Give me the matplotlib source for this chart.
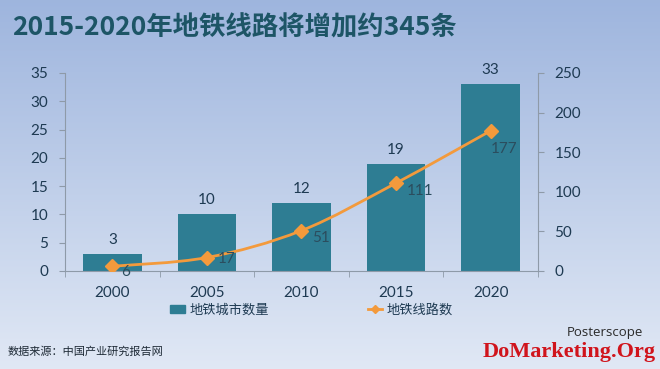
import numpy as np
import matplotlib
matplotlib.use('Agg')
import matplotlib.pyplot as plt
from matplotlib.path import Path
from matplotlib.patches import PathPatch, Patch
from matplotlib.lines import Line2D

# data
years = ['2000', '2005', '2010', '2015', '2020']
cities = [3, 10, 12, 19, 33]      # 地铁城市数量
lines = [6, 17, 51, 111, 177]     # 地铁线路数

title = '2015-2020年地铁线路将增加约345条'
legend_labels = ['地铁城市数量', '地铁线路数']
source = '数据来源：中国产业研究报告网'

CJK = ['Noto Sans CJK SC', 'DejaVu Sans']
NUM = ['Lato', 'DejaVu Sans']
bar_color = '#2e7d93'
line_color = '#f39a3c'
text_color = '#1e3a52'
axis_color = '#8e9aa8'

fig = plt.figure(figsize=(6.6, 3.69), dpi=100)

# background gradient
bg = fig.add_axes([0, 0, 1, 1], zorder=-10)
grad = np.linspace(0, 1, 256).reshape(-1, 1)
top = np.array([0.62, 0.71, 0.87])
bottom = np.array([0.88, 0.91, 0.96])
img = top[None, None, :] * (1 - grad[:, :, None]) + bottom[None, None, :] * grad[:, :, None]
bg.imshow(img, aspect='auto', extent=[0, 1, 0, 1])
bg.axis('off')

ax = fig.add_axes([0.0985, 0.2656, 0.7165, 0.5366])
ax.patch.set_alpha(0)
x = np.arange(len(years))
ax.bar(x, cities, width=0.62, color=bar_color, zorder=2)
ax.set_xlim(-0.5, len(years) - 0.5)
ax.set_ylim(0, 35)
ax.set_yticks(range(0, 36, 5))
ax.set_xticks(x)
ax.set_xticklabels(years)
ax.set_xticks(np.arange(-0.5, len(years)), minor=True)
ax.tick_params(axis='x', which='major', length=0, pad=11)
ax.tick_params(axis='x', which='minor', length=4, color=axis_color)
ax.tick_params(axis='y', length=4, color=axis_color, pad=8)
for lab in ax.get_xticklabels() + ax.get_yticklabels():
    lab.set_family(NUM)
    lab.set_fontsize(11)
    lab.set_color(text_color)
for s in ['top', 'right']:
    ax.spines[s].set_visible(False)
ax.spines['left'].set_color(axis_color)
ax.spines['bottom'].set_color(axis_color)

for xi, v in zip(x, cities):
    ax.annotate(str(v), (xi, v), xytext=(0, 5), textcoords='offset points',
                ha='center', va='bottom', fontsize=11, family=NUM, color=text_color)

ax2 = ax.twinx()
ax2.set_ylim(0, 250)
ax2.set_yticks(range(0, 251, 50))
for s in ['top', 'left', 'bottom']:
    ax2.spines[s].set_visible(False)
ax2.spines['right'].set_color(axis_color)
ax2.tick_params(axis='y', length=4, color=axis_color, pad=8)
for lab in ax2.get_yticklabels():
    lab.set_family(NUM)
    lab.set_fontsize(11)
    lab.set_color(text_color)

# smoothed line (Catmull-Rom bezier through the data points)
pts = np.column_stack([x, lines]).astype(float)
verts = [tuple(pts[0])]
codes = [Path.MOVETO]
for i in range(len(pts) - 1):
    p0 = pts[max(i - 1, 0)]
    p1 = pts[i]
    p2 = pts[i + 1]
    p3 = pts[min(i + 2, len(pts) - 1)]
    c1 = p1 + (p2 - p0) / 6
    c2 = p2 - (p3 - p1) / 6
    verts += [tuple(c1), tuple(c2), tuple(p2)]
    codes += [Path.CURVE4] * 3
ax2.add_patch(PathPatch(Path(verts, codes), fill=False, edgecolor=line_color, lw=2, zorder=3))
ax2.plot(x, lines, ls='none', marker='D', ms=7, color=line_color, zorder=4)

offsets = [(6, -4), (8, -1), (8, -5), (8, -6), (0, -13)]
for xi, v, off in zip(x, lines, offsets):
    ax2.annotate(str(v), (xi, v), xytext=off, textcoords='offset points',
                 ha='left', va='center', fontsize=11, family=NUM, color='#2b4d5e')

handles = [Patch(color=bar_color),
           Line2D([], [], color=line_color, marker='D', ms=4, lw=2)]
leg = fig.legend(handles, legend_labels, loc='center', bbox_to_anchor=(0.472, 0.16),
                 ncol=2, frameon=False, columnspacing=7.5, handlelength=1.1,
                 handleheight=0.5, handletextpad=0.35, prop={'family': CJK, 'size': 9.5})
for t in leg.get_texts():
    t.set_color(text_color)

fig.text(0.018, 0.924, title, fontsize=19, fontweight='bold', family=CJK,
         color='#1d5566', va='center')
fig.text(0.012, 0.046, source, fontsize=8, family=CJK, color='#1e2a36', va='center')
fig.text(0.975, 0.1, 'Posterscope', fontsize=9.5, family=['Open Sans', 'DejaVu Sans'],
         color='#2a2a2a', ha='right', va='center')
fig.text(0.993, 0.045, 'DoMarketing.Org', fontsize=16, fontweight='bold',
         family=['Liberation Serif', 'DejaVu Serif'], color='#d0141c', ha='right', va='center')

fig.savefig('out.png', dpi=100)
